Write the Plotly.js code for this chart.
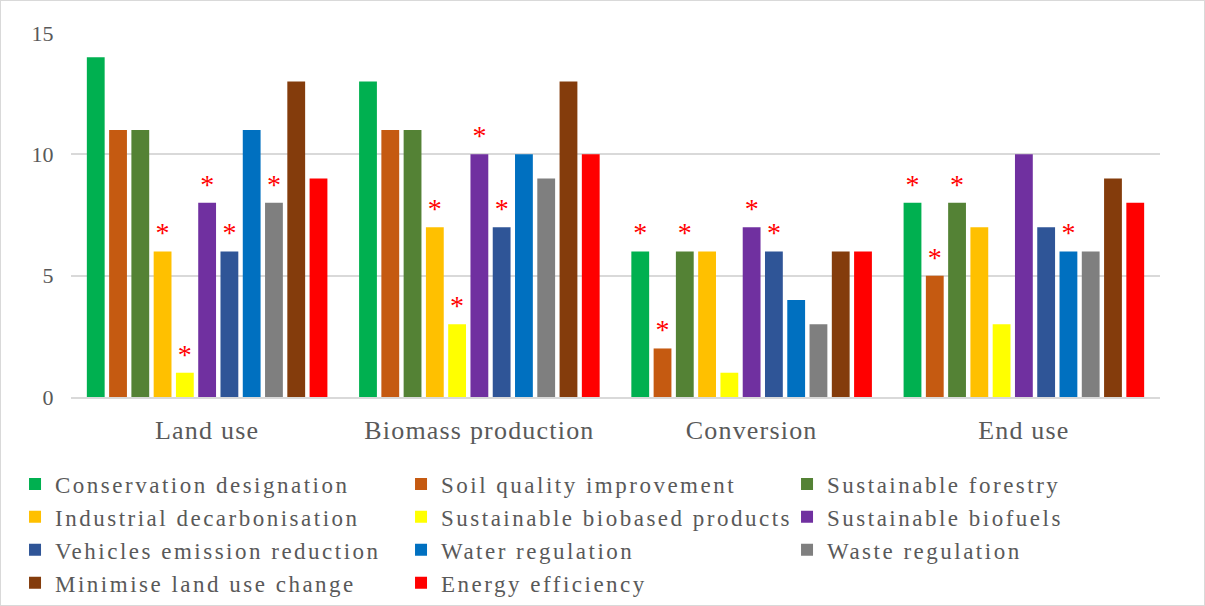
<!DOCTYPE html>
<html><head><meta charset="utf-8">
<script src="https://cdn.plot.ly/plotly-3.0.1.min.js"></script>
<style>body{margin:0;background:#fff}#c{width:1203px;height:604px;border:1px solid #d9d9d9}
#c .legendtext{letter-spacing:2.5px}
#c .xtick text{letter-spacing:1.2px}
</style>
</head><body><div id="c"></div>
<script>
const categories = ["Land use", "Biomass production", "Conversion", "End use"];
const seriesNames = ["Conservation designation","Soil quality improvement","Sustainable forestry","Industrial decarbonisation","Sustainable biobased products","Sustainable biofuels","Vehicles emission reduction","Water regulation","Waste regulation","Minimise land use change","Energy efficiency"];
const conservation = [14, 13, 6, 8];
const soil = [11, 11, 2, 5];
const forestry = [11, 11, 6, 8];
const industrial = [6, 7, 6, 7];
const biobased = [1, 3, 1, 3];
const biofuels = [8, 10, 7, 10];
const vehicles = [6, 7, 6, 7];
const water = [11, 10, 4, 6];
const waste = [8, 9, 3, 6];
const minimise = [13, 13, 6, 9];
const energy = [9, 10, 6, 8];
// significance markers (asterisks)
const sigConservation = [0,0,1,1];
const sigSoil = [0,0,1,1];
const sigForestry = [0,0,1,1];
const sigIndustrial = [1,1,0,0];
const sigBiobased = [1,1,0,0];
const sigBiofuels = [1,1,1,0];
const sigVehicles = [1,1,1,0];
const sigWater = [0,0,0,1];
const sigWaste = [1,0,0,0];
const sigMinimise = [0,0,0,0];
const sigEnergy = [0,0,0,0];
const yTicks = [0, 5, 10, 15];

const values = [conservation, soil, forestry, industrial, biobased, biofuels, vehicles, water, waste, minimise, energy];
const sigs = [sigConservation, sigSoil, sigForestry, sigIndustrial, sigBiobased, sigBiofuels, sigVehicles, sigWater, sigWaste, sigMinimise, sigEnergy];
const colors = ["#00b050","#c55a11","#548235","#ffc000","#ffff00","#7030a0","#2f5597","#0070c0","#7f7f7f","#843c0c","#ff0000"];

const serif = "Times New Roman, Liberation Serif, serif";
const traces = values.map((v, i) => ({
  type: "bar", name: seriesNames[i], x: categories, y: v,
  marker: {color: colors[i]},
  text: sigs[i].map(s => s ? "*" : ""),
  textposition: "outside", cliponaxis: false,
  textfont: {color: "#ff0000", size: 28, family: serif},
  constraintext: "none",
  hoverinfo: "x+y+name"
}));

const layout = {
  width: 1203, height: 604,
  margin: {l: 70, r: 44, t: 32, b: 208, autoexpand: false},
  paper_bgcolor: "#fff", plot_bgcolor: "#fff",
  barmode: "group", bargap: 0.1, bargroupgap: 0.2,
  font: {family: serif, color: "#404040"},
  showlegend: true,
  xaxis: {tickfont: {size: 26, color: "#595959"}, ticks: "outside", ticklen: 9, tickcolor: "rgba(0,0,0,0)",
          showline: true, linecolor: "#d9d9d9", linewidth: 2},
  yaxis: {range: [0, 15], tickvals: yTicks, tickfont: {size: 22, color: "#595959"},
          gridcolor: "#d9d9d9", gridwidth: 1.5, zeroline: false, ticks: "outside", ticklen: 12, tickcolor: "rgba(0,0,0,0)"},
  legend: {orientation: "h", x: -0.0514, xanchor: "left", y: -0.18, yanchor: "top",
           entrywidth: 341, entrywidthmode: "pixels", tracegroupgap: 0,
           font: {size: 23, color: "#595959", family: serif}, itemwidth: 30, traceorder: "normal"}
};
Plotly.newPlot("c", traces, layout, {displayModeBar: false});
</script></body></html>
